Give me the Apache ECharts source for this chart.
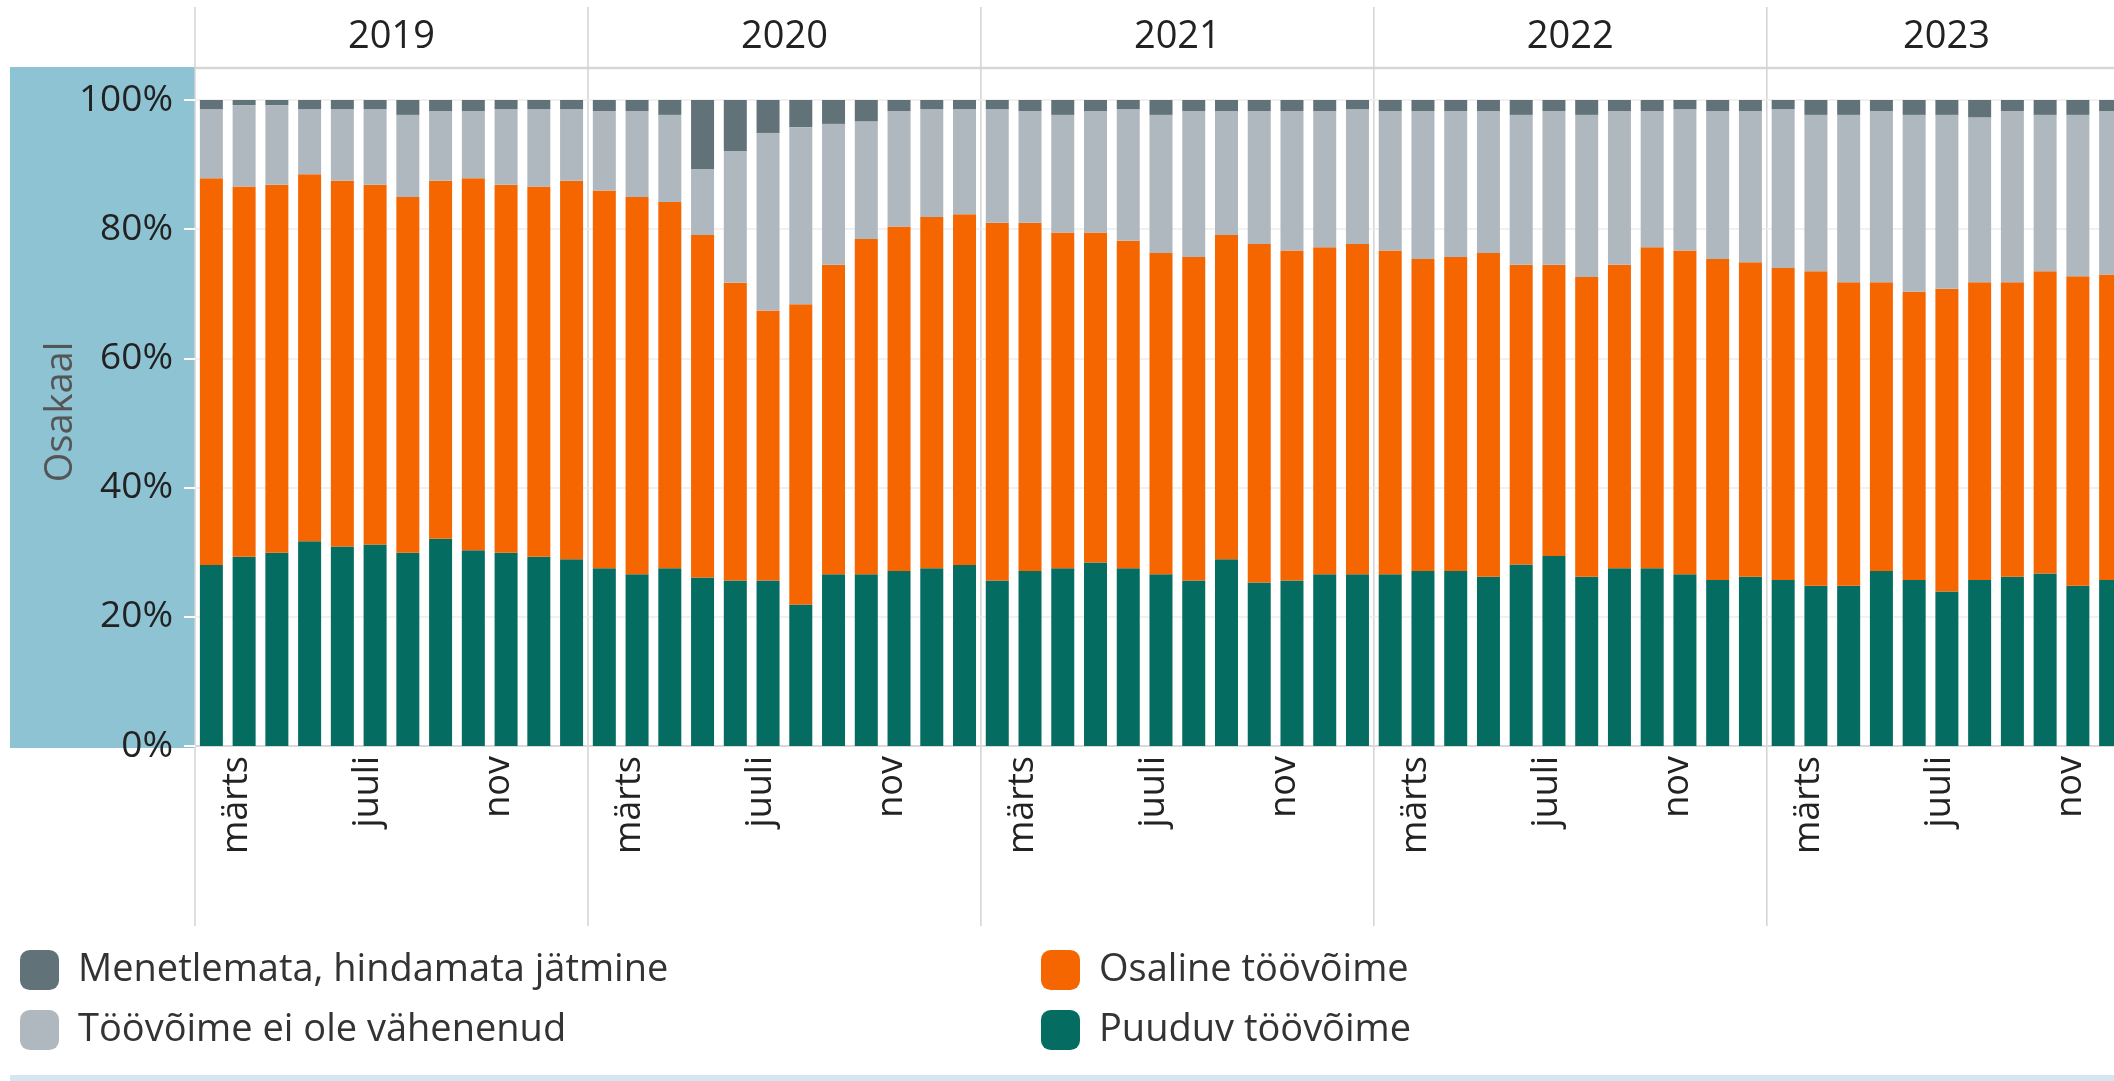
<!DOCTYPE html>
<html>
<head>
<meta charset="utf-8">
<script src="https://cdn.jsdelivr.net/npm/echarts@6/dist/echarts.min.js"></script>
<style>
  html, body { margin: 0; padding: 0; background: #fff; }
  #chart { width: 2114px; height: 1081px; }
</style>
</head>
<body>
<div id="chart"></div>
<script>
// aastad ja kuud (vaates on näha kuni 2023 nov)
const years = ["2019", "2020", "2021", "2022", "2023"];
const monthNames = ["jaan", "veebr", "märts", "apr", "mai", "juuni", "juuli", "aug", "sept", "okt", "nov", "dets"];
const categories = years
  .flatMap((y) => monthNames.map((m) => y + " " + m))
  .slice(0, 59);

// osakaalud (%), loetud pildilt
const puuduv = [
  28.0, 29.3, 29.9, 31.7, 30.9, 31.2, 29.9, 32.1, 30.3, 29.9, 29.3, 28.9,
  27.5, 26.6, 27.5, 26.1, 25.6, 25.6, 21.9, 26.6, 26.6, 27.1, 27.5, 28.0,
  25.6, 27.1, 27.5, 28.4, 27.5, 26.6, 25.6, 28.9, 25.3, 25.6, 26.6, 26.6,
  26.6, 27.1, 27.1, 26.2, 28.1, 29.4, 26.2, 27.5, 27.5, 26.6, 25.7, 26.2,
  25.7, 24.8, 24.8, 27.1, 25.7, 23.9, 25.7, 26.2, 26.7, 24.8, 25.7,
];
const osaline = [
  59.9, 57.3, 57.0, 56.8, 56.6, 55.7, 55.1, 55.4, 57.6, 57.0, 57.3, 58.6,
  58.5, 58.4, 56.7, 53.0, 46.1, 41.8, 46.5, 47.9, 51.9, 53.3, 54.4, 54.3,
  55.4, 53.9, 52.0, 51.1, 50.7, 49.7, 50.1, 50.2, 52.4, 51.1, 50.6, 51.1,
  50.1, 48.3, 48.6, 50.1, 46.4, 45.1, 46.4, 47.0, 49.7, 50.1, 49.7, 48.7,
  48.3, 48.7, 47.0, 44.7, 44.6, 46.9, 46.1, 45.6, 46.8, 47.9, 47.3,
];
const eiVahenenud = [
  10.7, 12.6, 12.3, 10.1, 11.1, 11.7, 12.7, 10.8, 10.4, 11.7, 12.0, 11.1,
  12.3, 13.3, 13.5, 10.2, 20.4, 27.5, 27.4, 21.8, 18.2, 17.9, 16.7, 16.3,
  17.6, 17.3, 18.2, 18.8, 20.4, 21.4, 22.6, 19.2, 20.6, 21.6, 21.1, 20.9,
  21.6, 22.9, 22.6, 22.0, 23.2, 23.8, 25.1, 23.8, 21.1, 21.9, 22.9, 23.4,
  24.6, 24.2, 25.9, 26.5, 27.4, 26.9, 25.5, 26.5, 24.2, 25.0, 25.3,
];
const menetlemata = [
  1.4, 0.8, 0.8, 1.4, 1.4, 1.4, 2.3, 1.7, 1.7, 1.4, 1.4, 1.4,
  1.7, 1.7, 2.3, 10.7, 7.9, 5.1, 4.2, 3.7, 3.3, 1.7, 1.4, 1.4,
  1.4, 1.7, 2.3, 1.7, 1.4, 2.3, 1.7, 1.7, 1.7, 1.7, 1.7, 1.4,
  1.7, 1.7, 1.7, 1.7, 2.3, 1.7, 2.3, 1.7, 1.7, 1.4, 1.7, 1.7,
  1.4, 2.3, 2.3, 1.7, 2.3, 2.3, 2.7, 1.7, 2.3, 2.3, 1.7,
];

const FONT = "'Open Sans', sans-serif";
const W = 2114;
const chart = echarts.init(document.getElementById("chart"));

function barSeries(name, data, color) {
  return {
    name: name,
    type: "bar",
    stack: "kokku",
    barWidth: 23,
    data: data,
    itemStyle: { color: color },
    emphasis: { disabled: true },
  };
}

const legendCommon = {
  orient: "vertical",
  top: 950,
  padding: 0,
  itemWidth: 39,
  itemHeight: 40,
  itemGap: 20,
  icon: "roundRect",
  selectedMode: false,
  textStyle: { fontFamily: FONT, fontSize: 38, color: "#333", padding: [0, 0, 0, 14] },
};

chart.setOption({
  backgroundColor: "#fff",
  animation: false,
  textStyle: { fontFamily: FONT },
  grid: { left: 195, top: 100, right: -13, bottom: 335, outerBoundsMode: "none" },
  legend: [
    Object.assign({}, legendCommon, {
      left: 20,
      data: ["Menetlemata, hindamata jätmine", "Töövõime ei ole vähenenud"],
    }),
    Object.assign({}, legendCommon, {
      left: 1041,
      data: ["Osaline töövõime", "Puuduv töövõime"],
    }),
  ],
  xAxis: {
    type: "category",
    data: categories,
    axisLine: { lineStyle: { color: "#d9d9d9", width: 2 } },
    axisTick: { show: false },
    axisLabel: {
      interval: (i) => i % 12 === 2 || i % 12 === 6 || i % 12 === 10,
      formatter: (v, i) => monthNames[i % 12],
      rotate: 90,
      margin: 10,
      fontSize: 36,
      color: "#222",
      verticalAlign: "bottom",
      lineHeight: 80,
    },
  },
  yAxis: {
    type: "value",
    min: 0,
    max: 100,
    interval: 20,
    axisLine: { show: false },
    axisTick: { show: true, length: 11, lineStyle: { color: "#fff", width: 2 } },
    axisLabel: { formatter: "{value}%", fontSize: 37, color: "#222", margin: 22 },
    splitLine: { lineStyle: { color: "#ececec", width: 1.5 } },
  },
  series: [
    barSeries("Puuduv töövõime", puuduv, "#056c62"),
    barSeries("Osaline töövõime", osaline, "#f56600"),
    barSeries("Töövõime ei ole vähenenud", eiVahenenud, "#b0b8bf"),
    barSeries("Menetlemata, hindamata jätmine", menetlemata, "#627279"),
  ],
});

// aasta päised, eraldusjooned ja telje paneel
const px = (i) => chart.convertToPixel({ xAxisIndex: 0 }, i);
const band = px(1) - px(0);
const edges = years.map((y, k) => px(k * 12) - band / 2);
const gridBottom = chart.convertToPixel({ yAxisIndex: 0 }, 0);

const graphics = [
  {
    type: "rect",
    z: -2,
    shape: { x: 10, y: 67, width: edges[0] - 10, height: gridBottom + 2 - 67 },
    style: { fill: "#8ec3d3" },
  },
  {
    type: "rect",
    z: -2,
    shape: { x: 10, y: 1075, width: W - 10, height: 6 },
    style: { fill: "#d5e6ee" },
  },
  {
    type: "line",
    z: -1,
    shape: { x1: edges[0], y1: 68, x2: W, y2: 68 },
    style: { stroke: "#d6d6d6", lineWidth: 2.5 },
  },
  {
    type: "text",
    x: 61,
    y: 412,
    rotation: Math.PI / 2,
    style: {
      text: "Osakaal",
      fontFamily: FONT,
      fontSize: 38,
      fill: "#555",
      align: "center",
      verticalAlign: "middle",
    },
  },
];

edges.forEach((e, k) => {
  graphics.push({
    type: "line",
    z: -1,
    shape: { x1: e, y1: 7, x2: e, y2: 926 },
    style: { stroke: "#d3d3d3", lineWidth: 1.5 },
  });
  const right = Math.min(k + 1 < edges.length ? edges[k + 1] : e + band * 12, W);
  graphics.push({
    type: "text",
    x: (e + right) / 2 + (right === W ? 6 : 0),
    y: 37,
    style: {
      text: years[k],
      fontFamily: FONT,
      fontSize: 38,
      fill: "#222",
      align: "center",
      verticalAlign: "middle",
    },
  });
});

chart.setOption({ graphic: graphics });
</script>
</body>
</html>
